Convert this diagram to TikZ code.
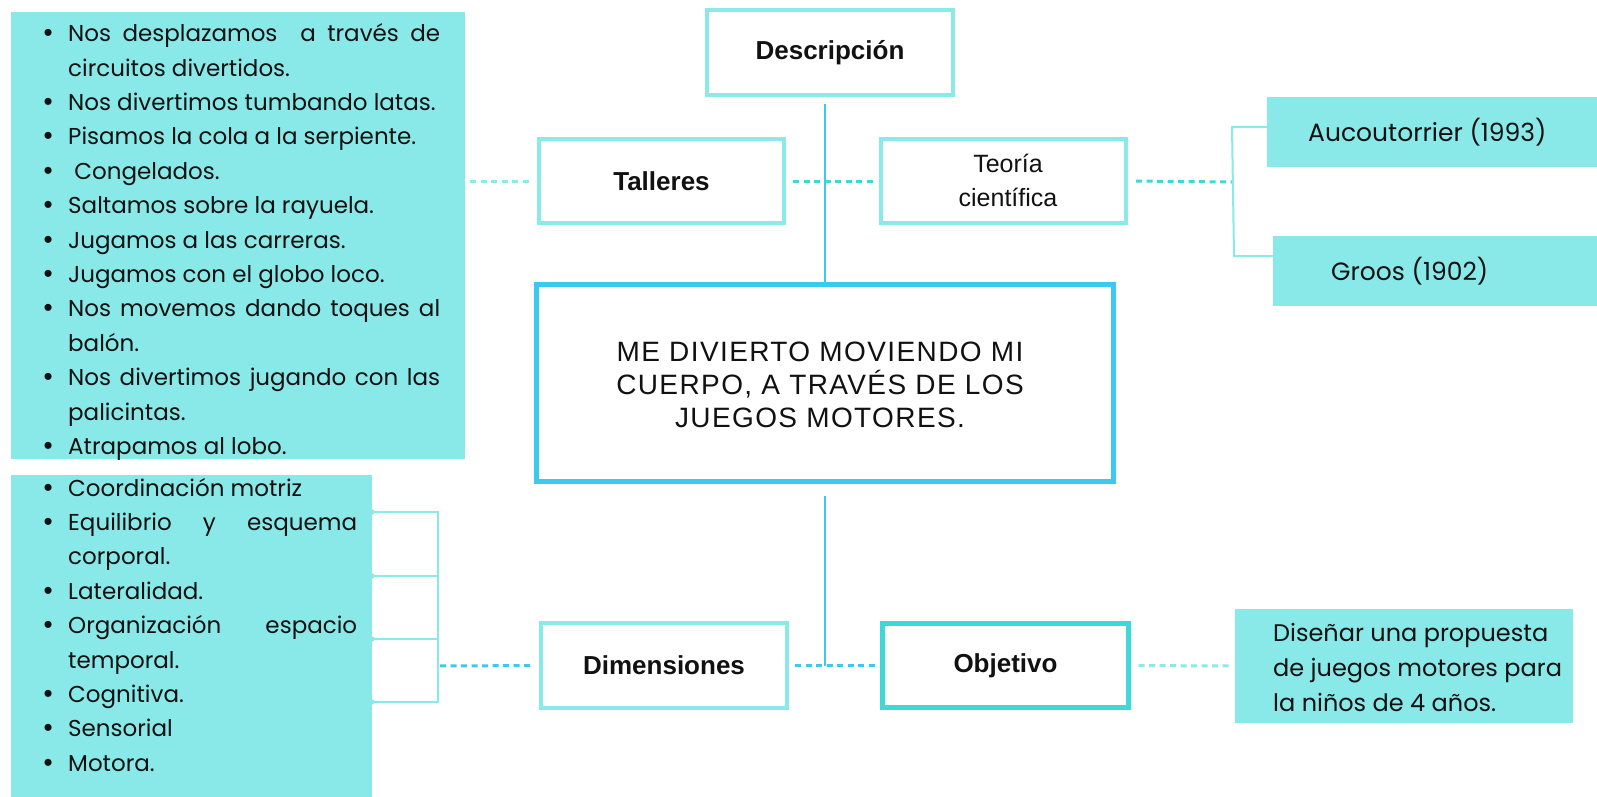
\documentclass[tikz,border=0pt]{standalone}
\usepackage{fontspec}
\setmainfont{Poppins}
\newfontfamily\labf{Liberation Sans}
\newfontfamily\titlef[LetterSpace=5]{Liberation Sans}
\definecolor{cfill}{HTML}{89E9E8}
\definecolor{lline}{HTML}{8AE9E9}
\definecolor{bline}{HTML}{3CC9EF}
\definecolor{tline}{HTML}{3DD9D9}
\definecolor{ink}{HTML}{111111}
\newcommand{\bul}{\hangindent=26pt\hangafter=1\makebox[26pt][l]{\hspace{1.5pt}{\labf\fontsize{26}{30}\selectfont\textbullet}}}
\begin{document}
\begin{tikzpicture}[x=1pt,y=-1pt,
  fillbox/.style={rectangle, draw=none, fill=cfill, inner sep=0pt},
  lbox/.style={rectangle, draw=lline, line width=4.4pt, fill=white, inner sep=0pt, text=ink},
  lbl/.style={font=\labf\bfseries\fontsize{26}{30}\selectfont},
  listtxt/.style={inner sep=0pt, align=justify, text=ink, font=\fontsize{23}{34.4}\selectfont},
  plain/.style={inner sep=0pt, text=ink},
  dashlight/.style={draw=lline, line width=3pt, dash pattern=on 6pt off 4.5pt},
  dashblue/.style={draw=bline, line width=3pt, dash pattern=on 6pt off 4.5pt},
  dashteal/.style={draw=tline, line width=3pt, dash pattern=on 6pt off 4.5pt},
  vline/.style={draw=bline, line width=2.5pt},
  brk/.style={draw=lline, line width=2pt}
]
\path[use as bounding box, fill=white] (0,0) rectangle (1597,797);

% ---- filled list boxes ----
\node[fillbox, minimum width=454, minimum height=447] (list1) at (238,235.5) {};
\node[fillbox, minimum width=361, minimum height=322] (list2) at (191.5,636) {};
\node[fillbox, minimum width=330, minimum height=70] (aucou) at (1432,132) {};
\node[fillbox, minimum width=324, minimum height=70] (groos) at (1435,271) {};
\node[fillbox, minimum width=338, minimum height=114] (dis) at (1404,666) {};

\node[listtxt, text width=398, anchor=base west] (list1t) at (42,41.7) {%
\bul Nos desplazamos\ \ a través de\linebreak circuitos divertidos.\par
\bul Nos divertimos tumbando latas.\par
\bul Pisamos la cola a la serpiente.\par
\bul \ Congelados.\par
\bul Saltamos sobre la rayuela.\par
\bul Jugamos a las carreras.\par
\bul Jugamos con el globo loco.\par
\bul Nos movemos dando toques al\linebreak balón.\par
\bul Nos divertimos jugando con las\linebreak palicintas.\par
\bul Atrapamos al lobo.};

\node[listtxt, text width=315, anchor=base west] (list2t) at (42,496) {%
\bul Coordinación motriz\par
\bul Equilibrio y esquema\linebreak corporal.\par
\bul Lateralidad.\par
\bul Organización espacio\linebreak temporal.\par
\bul Cognitiva.\par
\bul Sensorial\par
\bul Motora.};

\node[plain, anchor=base west, font=\fontsize{25}{30}\selectfont] (aucout) at (1308,142) {Aucoutorrier (1993)};
\node[plain, anchor=base west, font=\fontsize{25}{30}\selectfont] (groost) at (1331,280) {Groos (1902)};
\node[plain, anchor=base west, align=left, font=\fontsize{24}{35}\selectfont] (dist) at (1273,711) {Diseñar una propuesta\\de juegos motores para\\la niños de 4 años.};

% ---- bordered boxes ----
\node[lbox, lbl, minimum width=245.6, minimum height=84.6] (desc) at (830,52.5) {Descripción};
\node[lbox, lbl, minimum width=244.6, minimum height=83.6] (tall) at (661.5,181) {Talleres};
\node[lbox, minimum width=244.6, minimum height=83.6] (teo) at (1003.5,181) {};
\node[plain, anchor=base, font=\labf\fontsize{25}{30}\selectfont] (teo1) at (1008,172) {Teoría};
\node[plain, anchor=base, font=\labf\fontsize{25}{30}\selectfont] (teo2) at (1008,206) {científica};
\node[lbox, draw=bline, line width=4.6pt, minimum width=577.4, minimum height=197.4] (main) at (825,383) {};
\node[plain, anchor=base, align=center, font=\titlef\fontsize{28}{33}\selectfont] (maint) at (820,427) {ME DIVIERTO MOVIENDO MI\\CUERPO, A TRAVÉS DE LOS\\JUEGOS MOTORES.};
\node[lbox, lbl, minimum width=245.6, minimum height=84.6] (dim) at (664,665.5) {Dimensiones};
\node[lbox, lbl, draw=tline, line width=5pt, minimum width=246, minimum height=84] (obj) at (1005.5,665.5) {Objetivo};

% ---- connectors ----
\coordinate (cx) at (825,0);
\draw[vline] ([yshift=-7pt]desc.south -| cx) -- (main.north -| cx);
\draw[vline] ([yshift=-12pt]main.south -| cx) -- (dim.east -| cx);

\draw[dashlight, shorten <=5pt, shorten >=6pt] (list1.east |- tall.west) -- (tall.west);
\draw[dashteal, shorten <=7pt, shorten >=3pt] (tall.east) -- (teo.west);
\coordinate (rb1) at (1232,127);
\coordinate (rb2) at (1234,256);
\coordinate (rbm) at (1232,182);
\draw[dashteal, shorten <=8pt] (teo.east) -- (rbm);
\draw[brk] (aucou.west |- rb1) -- (rb1) -- (rb2) -- (groos.west |- rb2);

\coordinate (t1) at (438,512);
\coordinate (t2) at (438,576);
\coordinate (t3) at (438,639);
\coordinate (t4) at (438,702);
\draw[brk] (list2.east |- t1) -- (t1) -- (t4) -- (list2.east |- t4);
\draw[brk] (list2.east |- t2) -- (t2);
\draw[brk] (list2.east |- t3) -- (t3);
\foreach \t in {t1,t2,t3,t4} \fill[lline] (list2.east |- \t) circle (2.6pt);
\coordinate (lbm) at (438,666);
\draw[dashblue, shorten <=2pt, shorten >=6pt] (lbm) -- (dim.west);
\draw[dashblue, shorten <=6pt, shorten >=4pt] (dim.east) -- (obj.west);
\draw[dashlight, shorten <=7.5pt, shorten >=3pt] (obj.east) -- (dis.west);
\end{tikzpicture}
\end{document}
